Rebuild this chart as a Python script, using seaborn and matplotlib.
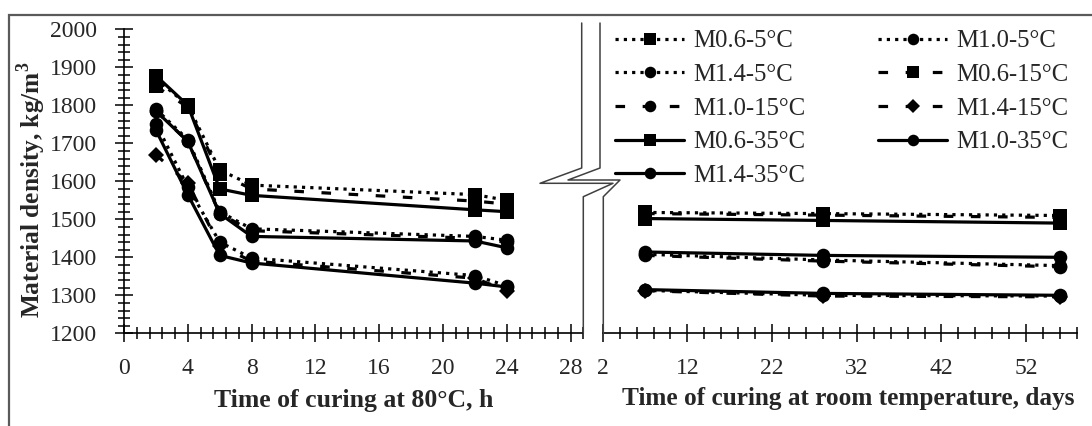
import numpy as np
import pandas as pd
import matplotlib
matplotlib.use("Agg")
import matplotlib.pyplot as plt
import seaborn as sns
from matplotlib.lines import Line2D
from matplotlib.patches import Rectangle
from matplotlib.ticker import MultipleLocator, FixedLocator

# ---------------- data ----------------
series = ["M0.6-5°C", "M1.0-5°C", "M1.4-5°C",
          "M0.6-15°C", "M1.0-15°C", "M1.4-15°C",
          "M0.6-35°C", "M1.0-35°C", "M1.4-35°C"]

hours = [2, 4, 6, 8, 22, 24]
days = [7, 28, 56]

dens_h = {
    "M0.6-5°C":  [1870, 1800, 1630, 1590, 1565, 1550],
    "M0.6-15°C": [1850, 1795, 1620, 1580, 1548, 1540],
    "M0.6-35°C": [1878, 1800, 1580, 1563, 1525, 1520],
    "M1.0-5°C":  [1790, 1710, 1520, 1475, 1455, 1445],
    "M1.0-15°C": [1785, 1705, 1515, 1470, 1450, 1440],
    "M1.0-35°C": [1785, 1705, 1515, 1455, 1443, 1425],
    "M1.4-5°C":  [1752, 1585, 1440, 1398, 1352, 1325],
    "M1.4-15°C": [1670, 1595, 1430, 1390, 1345, 1312],
    "M1.4-35°C": [1735, 1565, 1405, 1385, 1332, 1322],
}
dens_d = {
    "M0.6-5°C":  [1518, 1515, 1510],
    "M0.6-15°C": [1515, 1511, 1505],
    "M0.6-35°C": [1502, 1497, 1490],
    "M1.0-5°C":  [1408, 1393, 1378],
    "M1.0-15°C": [1405, 1390, 1375],
    "M1.0-35°C": [1414, 1405, 1400],
    "M1.4-5°C":  [1313, 1300, 1298],
    "M1.4-15°C": [1312, 1298, 1296],
    "M1.4-35°C": [1315, 1305, 1300],
}

left_xticks = [0, 4, 8, 12, 16, 20, 24, 28]
right_xticks = [2, 12, 22, 32, 42, 52]
yticks = [1200, 1300, 1400, 1500, 1600, 1700, 1800, 1900, 2000]

# ---------------- styles ----------------
markers = {"M0.6-5°C": "s", "M1.0-5°C": "o", "M1.4-5°C": "o",
           "M0.6-15°C": "s", "M1.0-15°C": "o", "M1.4-15°C": "D",
           "M0.6-35°C": "s", "M1.0-35°C": "o", "M1.4-35°C": "o"}
DOT = (1, 1.6)
DASH = (3, 5.5)
dashes = {s: (DOT if "-5°C" in s else DASH if "-15°C" in s else "") for s in series}
msize = {"s": 10.3, "o": 9.8, "D": 8.2}

sns.set_style("white")
plt.rcParams["font.family"] = ["Liberation Serif", "DejaVu Serif"]
plt.rcParams["mathtext.fontset"] = "custom"
plt.rcParams["mathtext.rm"] = "Liberation Serif"
plt.rcParams["mathtext.bf"] = "Liberation Serif:bold"

W, H = 1092, 426
fig = plt.figure(figsize=(W / 100, H / 100), dpi=100)

def px_rect(x0, y0, x1, y1):
    return [x0 / W, 1 - y1 / H, (x1 - x0) / W, (y1 - y0) / H]

y_top, y_bot = 29.3, 333.3
axL = fig.add_axes(px_rect(124, y_top, 583.3, y_bot))
axR = fig.add_axes(px_rect(602.7, y_top, 1077, y_bot))

dfL = pd.DataFrame([(s, x, v) for s in series for x, v in zip(hours, dens_h[s])],
                   columns=["series", "x", "y"])
dfR = pd.DataFrame([(s, x, v) for s in series for x, v in zip(days, dens_d[s])],
                   columns=["series", "x", "y"])

LW = 2.3
for ax, df in ((axL, dfL), (axR, dfR)):
    for s in series:
        sub = df[df["series"] == s]
        sns.lineplot(data=sub, x="x", y="y", ax=ax, color="black",
                     linewidth=LW, marker=markers[s], markersize=msize[markers[s]],
                     markeredgewidth=0, dashes=False, legend=False)
        ln = ax.lines[-1]
        if dashes[s] == "":
            ln.set_linestyle("-")
        else:
            ln.set_dashes(dashes[s])

for ax in (axL, axR):
    ax.set_ylim(1200, 2000)
    ax.set_xlabel("")
    ax.set_ylabel("")
    ax.patch.set_alpha(0)
    for sp in ("top", "right"):
        ax.spines[sp].set_visible(False)
    ax.spines["bottom"].set_color("black")
    ax.spines["bottom"].set_linewidth(1.2)
    ax.tick_params(axis="both", which="major", direction="inout", length=13,
                   width=1.1, color="black", labelsize=17, pad=11,
                   bottom=True, left=True)
    ax.tick_params(axis="both", which="minor", direction="inout", length=8,
                   width=1.1, color="black", bottom=True, left=True)
    ax.yaxis.set_major_locator(FixedLocator(yticks))
    ax.yaxis.set_minor_locator(MultipleLocator(20))

axL.set_xlim(0, 28.8)
axL.xaxis.set_major_locator(FixedLocator(left_xticks))
axL.xaxis.set_minor_locator(MultipleLocator(0.8))
axL.spines["left"].set_color("black")
axL.spines["left"].set_linewidth(1.2)
axL.tick_params(axis="y", which="major", pad=13)

axR.set_xlim(2, 58)
axR.xaxis.set_major_locator(FixedLocator(right_xticks))
axR.xaxis.set_minor_locator(MultipleLocator(2))
axR.spines["left"].set_visible(False)
axR.tick_params(axis="y", which="both", left=False, labelleft=False)

# axis titles
fig.text(354 / W, 1 - 400 / H, "Time of curing at 80°C, h", ha="center", va="center",
         fontsize=18.5, fontweight="bold")
fig.text(848 / W, 1 - 398 / H, "Time of curing at room temperature, days", ha="center",
         va="center", fontsize=18.2, fontweight="bold")
fig.text(32 / W, 1 - 190 / H, r"Material density, kg/m$^\mathbf{3}$", ha="center",
         va="center", rotation=90, fontsize=18.3, fontweight="bold")

# axis break symbol
bc = "#404040"
brk1 = [(581.7, 23), (581.7, 168), (540, 183.3), (613, 183.3), (583.3, 196.7), (583.3, 333.3)]
brk2 = [(600, 23), (600, 168), (568, 180), (620, 180), (603.3, 196.7), (603.3, 333.3)]
for pts in (brk1, brk2):
    xs = [p[0] / W for p in pts]
    ys = [1 - p[1] / H for p in pts]
    fig.add_artist(Line2D(xs, ys, transform=fig.transFigure, color=bc, lw=1.1))

# outer frame (partially visible)
fig.add_artist(Rectangle((9 / W, -0.2), 1.2, 1.2 - 15 / H, transform=fig.transFigure,
                         fill=False, edgecolor="#5a5a5a", lw=1.6))

# legend
handles = {}
for s in series:
    ls = "-" if dashes[s] == "" else (0, dashes[s])
    handles[s] = Line2D([], [], color="black", lw=LW, linestyle=ls,
                        marker=markers[s], markersize=msize[markers[s]] * 0.85,
                        markeredgewidth=0)
order = [0, 2, 4, 6, 8, 1, 3, 5, 7]
labs = [series[i] for i in order]
fig.legend([handles[l] for l in labs], labs, ncol=2, frameon=False,
           loc="upper left", bbox_to_anchor=(615 / W, 1 - 30 / H),
           bbox_transform=fig.transFigure, borderpad=0, borderaxespad=0,
           handlelength=2.8, handletextpad=0.35, columnspacing=2.95,
           labelspacing=0.46, fontsize=17.8)

fig.savefig("out.png", dpi=100)
